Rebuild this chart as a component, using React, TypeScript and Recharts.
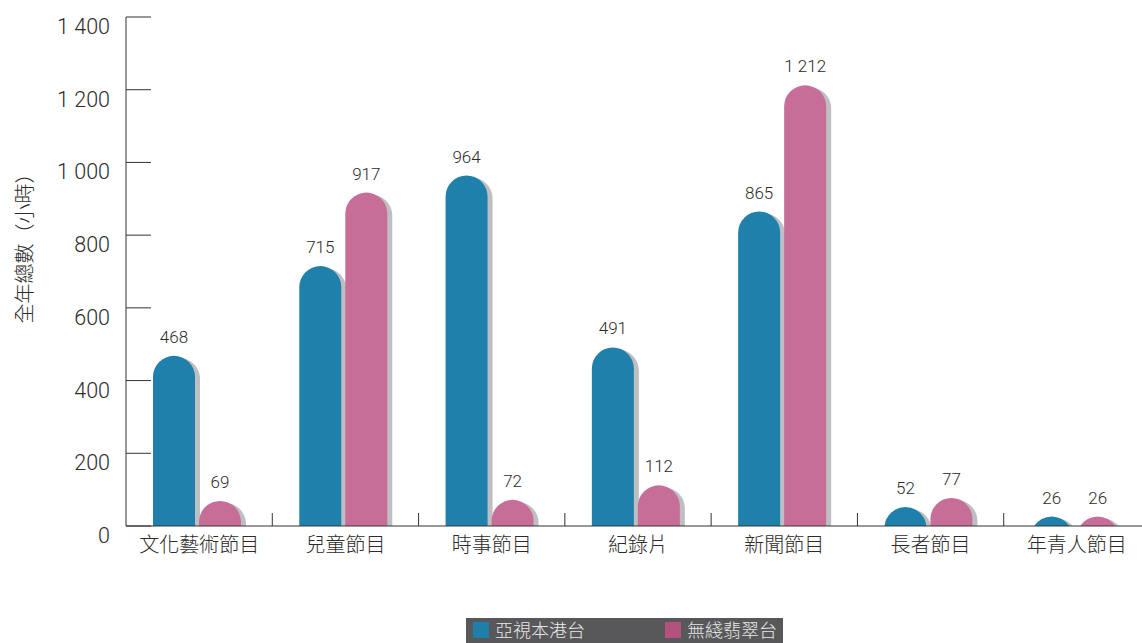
import React from 'react';
import { BarChart, Bar, XAxis, YAxis, LabelList } from 'recharts';

const categories = ['文化藝術節目', '兒童節目', '時事節目', '紀錄片', '新聞節目', '長者節目', '年青人節目'];
const atvValues = [468, 715, 964, 491, 865, 52, 26];
const tvbValues = [69, 917, 72, 112, 1212, 77, 26];
const seriesNames = ['亞視本港台', '無綫翡翠台'];
const yTicks = [0, 200, 400, 600, 800, 1000, 1200, 1400];
const yTitle = '全年總數（小時）';

const BLUE = '#1f80ab';
const PINK = '#c76e98';
const SHADOW = '#bfbfc3';
const TEXT = '#2b2b2b';
const FONT = "Roboto, 'Noto Sans CJK TC', sans-serif";
const CJK_FONT = "'Noto Sans CJK TC', sans-serif";

const CHART_W = 1150;
const CHART_H = 643;
const Y_AXIS_W = 126;
const BAND = (CHART_W - Y_AXIS_W) / categories.length;
const BAR_SHIFT = -2;

const data = categories.map((c, i) => ({ name: c, atv: atvValues[i], tvb: tvbValues[i] }));

const fmt = (n: number) => String(n).replace(/\B(?=(\d{3})+(?!\d))/g, ' ');

function domePath(x: number, y: number, w: number, h: number) {
  const r = w / 2;
  if (h <= 0) return '';
  if (h >= r) {
    return `M${x},${y + h} L${x},${y + r} A${r},${r} 0 0 1 ${x + w},${y + r} L${x + w},${y + h} Z`;
  }
  const d = r - h;
  const hw = Math.sqrt(r * r - d * d);
  const cx = x + r;
  return `M${cx - hw},${y + h} A${r},${r} 0 0 1 ${cx + hw},${y + h} Z`;
}

const DomeBar = (props: any) => {
  const { x, y, width, height, fill } = props;
  if (height == null || height <= 0) return null;
  const bx = x + BAR_SHIFT;
  return (
    <g>
      <path d={domePath(bx + 5, y + 2, width, height - 2)} fill={SHADOW} />
      <path d={domePath(bx, y, width, height)} fill={fill} />
    </g>
  );
};

const ValueLabel = (props: any) => {
  const { x, y, width, value } = props;
  return (
    <text x={x + BAR_SHIFT + width / 2} y={y - 13} textAnchor="middle" fontSize={17} fontFamily={FONT} fontWeight={300} fill={TEXT}>
      {fmt(value)}
    </text>
  );
};

const XTick = (props: any) => {
  const { x, y, payload } = props;
  return (
    <g>
      <line x1={x + BAND / 2} x2={x + BAND / 2} y1={y} y2={y - 13} stroke="#333" strokeWidth={1} />
      <text x={x} y={y + 26} textAnchor="middle" fontSize={20} fontFamily={FONT} fontWeight={300} fill={TEXT}>
        {payload.value}
      </text>
    </g>
  );
};

const YTick = (props: any) => {
  const { x, y, payload } = props;
  return (
    <g>
      <line x1={x} x2={x + 25} y1={y} y2={y} stroke="#333" strokeWidth={1} />
      <text x={x - 16} y={y + 17} textAnchor="end" fontSize={21.5} fontFamily={FONT} fontWeight={300} fill={TEXT}>
        {fmt(payload.value)}
      </text>
    </g>
  );
};

export default function App() {
  return (
    <div style={{ position: 'absolute', left: 0, top: 0, width: 1142, height: 643, overflow: 'hidden', background: '#fff' }}>
      <BarChart
        width={CHART_W}
        height={CHART_H}
        data={data}
        margin={{ top: 17, right: 0, bottom: 77, left: 0 }}
        barSize={42}
        barGap={4}
      >
        <XAxis
          dataKey="name"
          height={40}
          axisLine={{ stroke: '#333', strokeWidth: 1 }}
          tickLine={false}
          tickSize={0}
          tickMargin={0}
          tick={<XTick />}
          interval={0}
        />
        <YAxis
          width={Y_AXIS_W}
          domain={[0, 1400]}
          ticks={yTicks}
          axisLine={{ stroke: '#333', strokeWidth: 1 }}
          tickLine={false}
          tickSize={0}
          tickMargin={0}
          tick={<YTick />}
          interval={0}
        />
        <Bar dataKey="atv" name={seriesNames[0]} fill={BLUE} shape={<DomeBar />} isAnimationActive={false}>
          <LabelList dataKey="atv" content={<ValueLabel />} />
        </Bar>
        <Bar dataKey="tvb" name={seriesNames[1]} fill={PINK} shape={<DomeBar />} isAnimationActive={false}>
          <LabelList dataKey="tvb" content={<ValueLabel />} />
        </Bar>
      </BarChart>
      <div
        style={{
          position: 'absolute',
          left: 0,
          top: 0,
          width: 46,
          height: 526,
          display: 'flex',
          alignItems: 'center',
          justifyContent: 'center',
          pointerEvents: 'none',
        }}
      >
        <div
          style={{
            transform: 'rotate(-90deg)',
            whiteSpace: 'nowrap',
            fontSize: 20,
            fontFamily: CJK_FONT,
            fontWeight: 300,
            color: TEXT,
            marginTop: -40,
          }}
        >
          {yTitle}
        </div>
      </div>
      <div
        style={{
          position: 'absolute',
          left: 466,
          top: 618,
          width: 317,
          height: 25,
          background: '#58585a',
          fontFamily: FONT,
          fontSize: 18,
          fontWeight: 300,
          color: '#e8e8e8',
        }}
      >
        <div style={{ position: 'absolute', left: 7, top: 4, width: 16, height: 16, background: '#1e7fab' }} />
        <div style={{ position: 'absolute', left: 29, top: 0, lineHeight: '25px', whiteSpace: 'nowrap' }}>{seriesNames[0]}</div>
        <div style={{ position: 'absolute', left: 199, top: 4, width: 16, height: 16, background: '#b3527f' }} />
        <div style={{ position: 'absolute', left: 221, top: 0, lineHeight: '25px', whiteSpace: 'nowrap' }}>{seriesNames[1]}</div>
      </div>
    </div>
  );
}
